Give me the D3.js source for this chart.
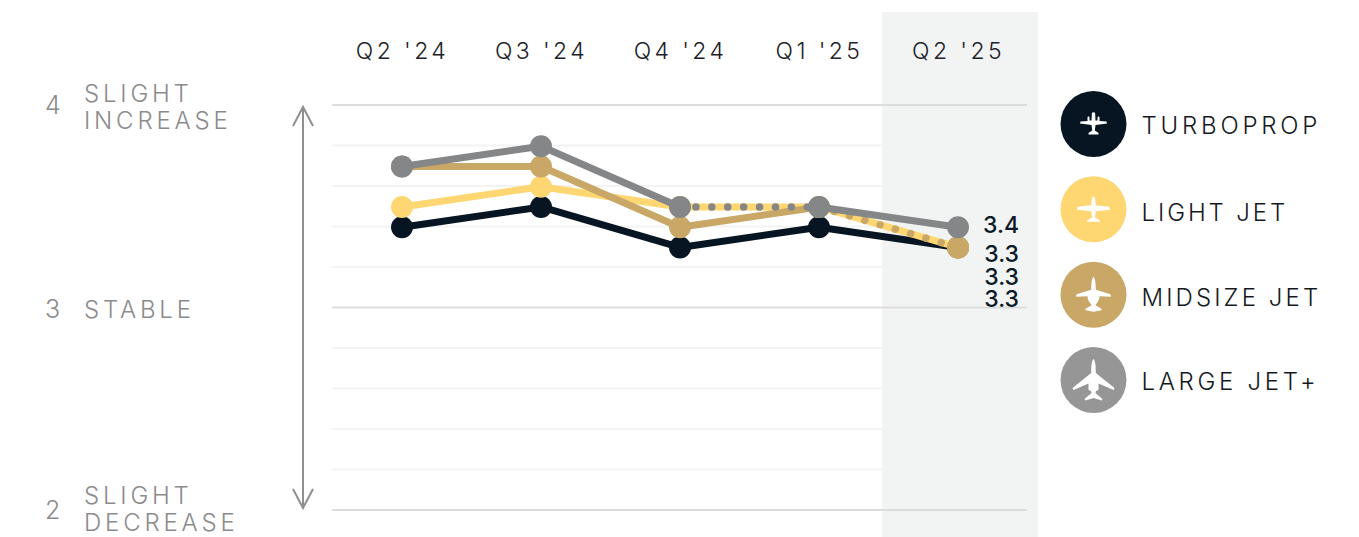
<!DOCTYPE html>
<html><head><meta charset="utf-8">
<script src="https://cdn.jsdelivr.net/npm/d3@7/dist/d3.min.js"></script>
<style>
html,body{margin:0;padding:0;background:#fff;overflow:hidden}
text{font-family:Inter,Lato,sans-serif}
</style></head><body><svg id="c" width="1359" height="537"></svg>
<script>
const quarters=["Q2 '24","Q3 '24","Q4 '24","Q1 '25","Q2 '25"];
const turboprop=[3.4,3.5,3.3,3.4,3.3];
const lightJet=[3.5,3.6,3.5,3.5,3.3];
const midsizeJet=[3.7,3.7,3.4,3.5,3.3];
const largeJet=[3.7,3.8,3.5,3.5,3.4];
const seriesNames=["TURBOPROP","LIGHT JET","MIDSIZE JET","LARGE JET+"];
const seriesColors=["#071522","#fed672","#c8a767","#858688"];
const legendColors=["#071522","#fed672","#c8a767","#969696"];
const seriesValues=[turboprop,lightJet,midsizeJet,largeJet];
const dottedSegments=[[3,2],[2,3]];
const endLabels=["3.4","3.3","3.3","3.3"];
const majorTicks=[4,3,2];
const minorTicks=[3.8,3.6,3.4,3.2,2.8,2.6,2.4,2.2];
const yLabels=[[4,["SLIGHT","INCREASE"]],[3,["STABLE"]],[2,["SLIGHT","DECREASE"]]];
const icons=[
"M-1.6-11C-1-12 1-12 1.6-11L2-3.5 4-3.5 4-6.5C4-8 6-8 6-6.5L6-3 13-2.5 13.5-.5 2 1 1.3 6.5 5 9 5 10.5-5 10.5-5 9-1.3 6.5-2 1-13.5-.5-13-2.5-6-3-6-6.5C-6-8-4-8-4-6.5L-4-3.5-2-3.5Z",
"M0-13C1.5-12 2-10 2.2-4L16-2.5 16.5 .5 2.2 2 1.5 8.5 6.5 11 6.5 12.5-6.500 12.5-6.500 11-1.500 8.500-2.200 2-16.500 .5-16-2.500-2.200-4C-2-10-1.500-12 0-13Z",
"M0-18C1.800-16 2.200-12 2.300-5L17-.5 17.500 2 6 1.500C6 5 4 8 2.500 9.500L2 10.500 8 14 8 15.500 0 17-8 15.500-8 14-2 10.500-2.500 9.500C-4 8-6 5-6 1.500L-17.500 2-17-.5-2.300-5C-2.200-12-1.800-16 0-18Z",
"M0-21C1.800-19 2.300-15 2.300-7L21 8 20 10 5 3.500 5 10 2.500 11 2 13 9 19 8 20.500 0 18-8 20.500-9 19-2 13-2.500 11-5 10-5 3.500-20 10-21 8-2.300-7C-2.300-15-1.800-19 0-21Z"
];

const svg=d3.select("#c");
const x=d3.scalePoint().domain(d3.range(quarters.length)).range([402,958]);
const y=d3.scaleLinear().domain([2,4]).range([510,105]);
const py=v=>y(v)+0.7;

svg.append("rect").attr("x",882).attr("y",12).attr("width",156).attr("height",525).attr("fill","#f2f4f3");

svg.selectAll(".minor").data(minorTicks).join("line").attr("class","minor")
 .attr("x1",332).attr("x2",882).attr("y1",d=>y(d)).attr("y2",d=>y(d))
 .attr("stroke","#f3f3f3").attr("stroke-width",2);
svg.selectAll(".major").data(majorTicks).join("line").attr("class","major")
 .attr("x1",332).attr("x2",1027).attr("y1",d=>y(d)).attr("y2",d=>y(d))
 .attr("stroke","#dcdcdc").attr("stroke-width",2);

svg.selectAll(".q").data(quarters).join("text").attr("class","q")
 .attr("x",(d,i)=>x(i)+0.5).attr("y",59).attr("text-anchor","middle")
 .attr("font-size",23).attr("font-weight",300).attr("letter-spacing",3.4).attr("fill","#1c2228").text(d=>d);

yLabels.forEach(([v,lines])=>{
  const cy=y(v)+ (v===4?0:v===2?-3:0);
  svg.append("text").attr("x",45).attr("y",y(v)+(v===2?9:v===4?9:10)).attr("font-size",25).attr("fill","#8b8b8b").attr("font-weight",300).text(v);
  const first=lines.length===2?cy-3:cy+10;
  lines.forEach((l,i)=>svg.append("text").attr("x",84).attr("y",first+i*27)
    .attr("font-size",24).attr("letter-spacing",3.8).attr("fill","#8b8b8b").attr("font-weight",300).text(l));
});

const ag=svg.append("g").attr("fill","none").attr("stroke","#8f8f8f").attr("stroke-width",2);
ag.append("line").attr("x1",303).attr("x2",303).attr("y1",y(4)+2).attr("y2",y(2)-2);
ag.append("path").attr("d",`M293 ${y(4)+21}L303 ${y(4)+2}L313 ${y(4)+21}`);
ag.append("path").attr("d",`M293 ${y(2)-21}L303 ${y(2)-2}L313 ${y(2)-21}`);

seriesValues.forEach((vals,s)=>{
  const dotted=dottedSegments.filter(d=>d[0]===s).map(d=>d[1]);
  vals.forEach((v,i)=>{
    if(i===vals.length-1||dotted.includes(i))return;
    svg.append("line").attr("x1",x(i)).attr("y1",py(v)).attr("x2",x(i+1)).attr("y2",py(vals[i+1]))
      .attr("stroke",seriesColors[s]).attr("stroke-width",7);
  });
  dotted.forEach(i=>{
    svg.append("line").attr("x1",x(i)).attr("y1",py(vals[i])).attr("x2",x(i+1)).attr("y2",py(vals[i+1]))
      .attr("stroke",seriesColors[s]).attr("stroke-width",7.5).attr("stroke-linecap","round")
      .attr("stroke-dasharray","0.01 15.900");
  });
  svg.selectAll(".p"+s).data(vals).join("circle").attr("class","p"+s)
    .attr("cx",(d,i)=>x(i)).attr("cy",d=>py(d)).attr("r",11).attr("fill",seriesColors[s]);
});

svg.selectAll(".end").data(endLabels).join("text").attr("class","end")
 .attr("x",1019).attr("y",(d,i)=>[233,262,285,307][i]).attr("text-anchor","end")
 .attr("font-size",23).attr("font-weight",500).attr("fill","#0c1a2a").text(d=>d);

const ly=d3.scalePoint().domain(seriesNames).range([124,380]);
const lg=svg.selectAll(".lg").data(seriesNames).join("g").attr("class","lg")
 .attr("transform",d=>`translate(1093.500,${ly(d)})`);
lg.append("circle").attr("r",33).attr("fill",(d,i)=>legendColors[i]);
lg.append("path").attr("d",(d,i)=>icons[i]).attr("fill","#fff");
lg.append("text").attr("x",48).attr("y",(d,i)=>[10,12,11,10][i]).attr("font-size",24).attr("font-weight",300)
 .attr("letter-spacing",(d,i)=>[3.8,2.9,3.1,3.7][i]).attr("fill","#15191e").text(d=>d);
</script></body></html>
